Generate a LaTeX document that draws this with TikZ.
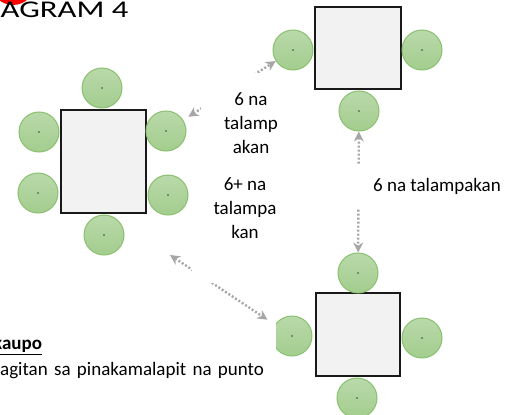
\documentclass[tikz,border=0pt]{standalone}
\usepackage{fontspec}
\setmainfont{Carlito}
\usetikzlibrary{arrows.meta}
\definecolor{seattop}{RGB}{185,217,170}
\definecolor{seatbot}{RGB}{163,205,142}
\definecolor{seatline}{RGB}{138,192,110}
\definecolor{tablefill}{RGB}{242,242,242}
\definecolor{walkgray}{RGB}{166,166,166}
\tikzset{
  seat/.style={circle,minimum size=40pt,inner sep=0pt,draw=seatline,line width=1pt,
    top color=seattop,bottom color=seatbot,
    path picture={\fill[black!75] (path picture bounding box.center) circle (0.8pt);}},
  table/.style={rectangle,draw=black!90,line width=2pt,fill=tablefill,inner sep=0pt},
  walk/.style={draw=walkgray,line width=2.4pt,dash pattern=on 2pt off 2pt,
    {Stealth[length=10pt,width=10pt]}-{Stealth[length=10pt,width=10pt]}},
  cover/.style={fill=white,inner sep=0pt,align=center,font=\fontsize{19}{24}\selectfont}
}
\begin{document}
\begin{tikzpicture}[x=1pt,y=-1pt]
\useasboundingbox (0,0) rectangle (512,415);
\fill[red] (13,-17) circle (22pt);
\node[anchor=base west,inner sep=0pt,font=\fontsize{24}{28}\selectfont] (title) at (0.5,17.3) {\scalebox{1.36}[1]{AGRAM 4}};

\node[table,minimum width=85pt,minimum height=103pt] (lt) at (103.5,161.5) {};
\node[table,minimum width=86pt,minimum height=82pt] (tr) at (358,48) {};
\node[table,minimum width=84pt,minimum height=83pt] (br) at (358,334.5) {};

\node[seat] (lt-n) at (102,88) {};
\node[seat] (lt-nw) at (39,132) {};
\node[seat] (lt-ne) at (166,131) {};
\node[seat] (lt-sw) at (38,193) {};
\node[seat] (lt-se) at (168,195) {};
\node[seat] (lt-s) at (104,235) {};
\node[seat] (tr-w) at (293,50) {};
\node[seat] (tr-e) at (422,50) {};
\node[seat] (tr-s) at (359,111) {};
\node[seat] (br-n) at (358,273) {};
\node[seat] (br-w) at (292,336) {};
\node[seat] (br-e) at (422,338) {};
\node[seat] (br-s) at (357,398) {};

\node[cover,anchor=north west,align=left,text width=272pt,inner xsep=4pt,inner ysep=22pt] (note) at (-4,314)
  {\hspace*{-7pt}\underline{\textbf{kaupo}}\\[1.5pt]agitan sa pinakamalapit na punto};

\coordinate (corner) at (170,255);
\draw[walk,shorten <=6pt] (lt-ne) -- (tr-w);
\draw[walk] (tr-s) -- (br-n);
\draw[walk,shorten >=9pt] (corner) -- (br-w);

\node[cover,minimum width=106pt,minimum height=150pt] (wide) at (245,208) {6+ na\\talampa\\kan};
\node[cover,minimum width=100pt,minimum height=100pt] (near) at (251,123) {6 na\\talamp\\akan};
\node[cover,minimum width=162pt,minimum height=44pt] (apart) at (437,186) {6 na talampakan};
\end{tikzpicture}
\end{document}
